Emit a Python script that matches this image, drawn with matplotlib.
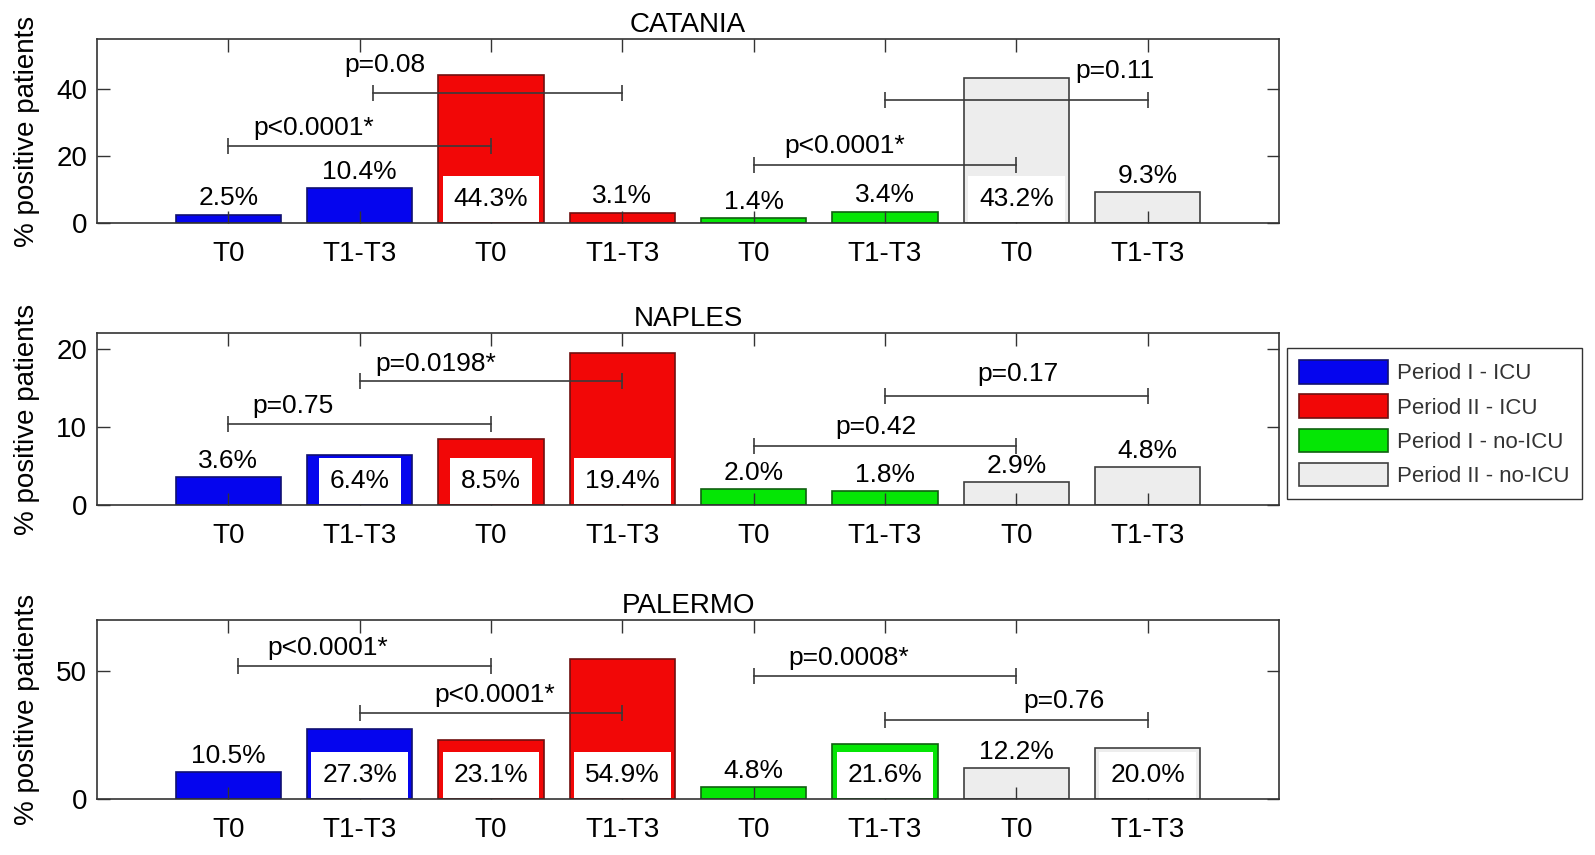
import matplotlib.pyplot as plt
import matplotlib.transforms as mtransforms
from matplotlib.patches import Patch
import numpy as np

plt.rcParams['font.family'] = ['Liberation Sans', 'DejaVu Sans']

cities = ['CATANIA', 'NAPLES', 'PALERMO']
tick_labels = ['T0', 'T1-T3', 'T0', 'T1-T3', 'T0', 'T1-T3', 'T0', 'T1-T3']
groups = ['Period I - ICU', 'Period II - ICU', 'Period I - no-ICU', 'Period II - no-ICU']

catania = [2.5, 10.4, 44.3, 3.1, 1.4, 3.4, 43.2, 9.3]
naples = [3.6, 6.4, 8.5, 19.4, 2.0, 1.8, 2.9, 4.8]
palermo = [10.5, 27.3, 23.1, 54.9, 4.8, 21.6, 12.2, 20.0]

# p-value brackets: (from bar, to bar, line height, label, text x, text y)
catania_p = [(1, 3, 23.0, 'p<0.0001*', 1.65, 28.4),
             (2.1, 4, 39.0, 'p=0.08', 2.19, 47.3),
             (5, 7, 17.4, 'p<0.0001*', 5.69, 22.9),
             (6, 8, 36.9, 'p=0.11', 7.75, 45.3)]
naples_p = [(1, 3, 10.3, 'p=0.75', 1.49, 12.7),
            (2, 4, 15.8, 'p=0.0198*', 2.58, 18.0),
            (5, 7, 7.6, 'p=0.42', 5.93, 10.0),
            (6, 8, 13.9, 'p=0.17', 7.01, 16.8)]
palermo_p = [(1.07, 3, 52.1, 'p<0.0001*', 1.76, 59.1),
             (2, 4, 33.5, 'p<0.0001*', 3.03, 40.7),
             (5, 7, 48.0, 'p=0.0008*', 5.72, 55.2),
             (6, 8, 30.7, 'p=0.76', 7.36, 38.2)]

ymax = [55, 22, 70]
yticks = [[0, 20, 40], [0, 10, 20], [0, 50]]

colors = ['#0505ee', '#f20707', '#05e605', '#ededed']
edges = ['#101070', '#701010', '#106010', '#404040']

W, H = 1595, 855
fig = plt.figure(figsize=(W / 100, H / 100), dpi=100)
rects = [(97, 39, 223), (97, 333, 505), (97, 620, 799)]

data = [catania, naples, palermo]
pvals = [catania_p, naples_p, palermo_p]

for k in range(3):
    left, top, bottom = rects[k]
    ax = fig.add_axes([left / W, 1 - bottom / H, (1279 - left) / W, (bottom - top) / H])
    vals = data[k]
    x = np.arange(1, len(vals) + 1)
    ax.bar(x, vals, width=0.8,
           color=[colors[i // 2] for i in range(len(vals))],
           edgecolor=[edges[i // 2] for i in range(len(vals))], linewidth=1.2)
    ax.set_xlim(0, 9)
    ax.set_ylim(0, ymax[k])
    ax.set_xticks(x, tick_labels)
    ax.set_yticks(yticks[k])
    ax.tick_params(direction='in', length=9, width=1, top=True, right=True,
                   labelsize=20, color='#333333')
    ax.tick_params(axis='x', pad=13)
    ax.tick_params(axis='y', pad=7)
    for s in ax.spines.values():
        s.set_color('#333333')
        s.set_linewidth(1.2)
    ax.set_title(cities[k], fontsize=20, pad=5)
    ax.set_ylabel('% positive patients', fontsize=20, labelpad=12)

    inside = mtransforms.offset_copy(ax.get_xaxis_transform(), fig=fig, y=17, units='points')
    for xi, v in zip(x, vals):
        lab = '%.1f%%' % v
        if v / ymax[k] > 0.25:
            ax.text(xi, 0, lab, transform=inside, ha='center', va='center', fontsize=19,
                    zorder=2.2,
                    bbox=dict(boxstyle='square,pad=0.42', fc='white', ec='none'))
        else:
            ax.annotate(lab, (xi, v), xytext=(0, 3), textcoords='offset points',
                        ha='center', va='bottom', fontsize=19)

    for x1, x2, y, lab, tx, ty in pvals[k]:
        ax.plot([x1, x2], [y, y], color='#3a3a3a', lw=1.2)
        ax.plot([x1, x2], [y, y], ls='none', marker='|', ms=12, mew=1.2, color='#3a3a3a')
        ax.text(tx, ty, lab, ha='center', va='center', fontsize=19)

handles = [Patch(facecolor=c, edgecolor=e, linewidth=1.2, label=g)
           for c, e, g in zip(colors, edges, groups)]
fig.legend(handles=handles, loc='upper left', bbox_to_anchor=(1287 / W, 1 - 348 / H),
           fontsize=16, handlelength=4.0, handleheight=1.25, labelspacing=0.45,
           handletextpad=0.4, borderpad=0.55, borderaxespad=0, fancybox=False,
           edgecolor='#333333', framealpha=1, labelcolor='#333333')

fig.savefig('out.png', dpi=100)
